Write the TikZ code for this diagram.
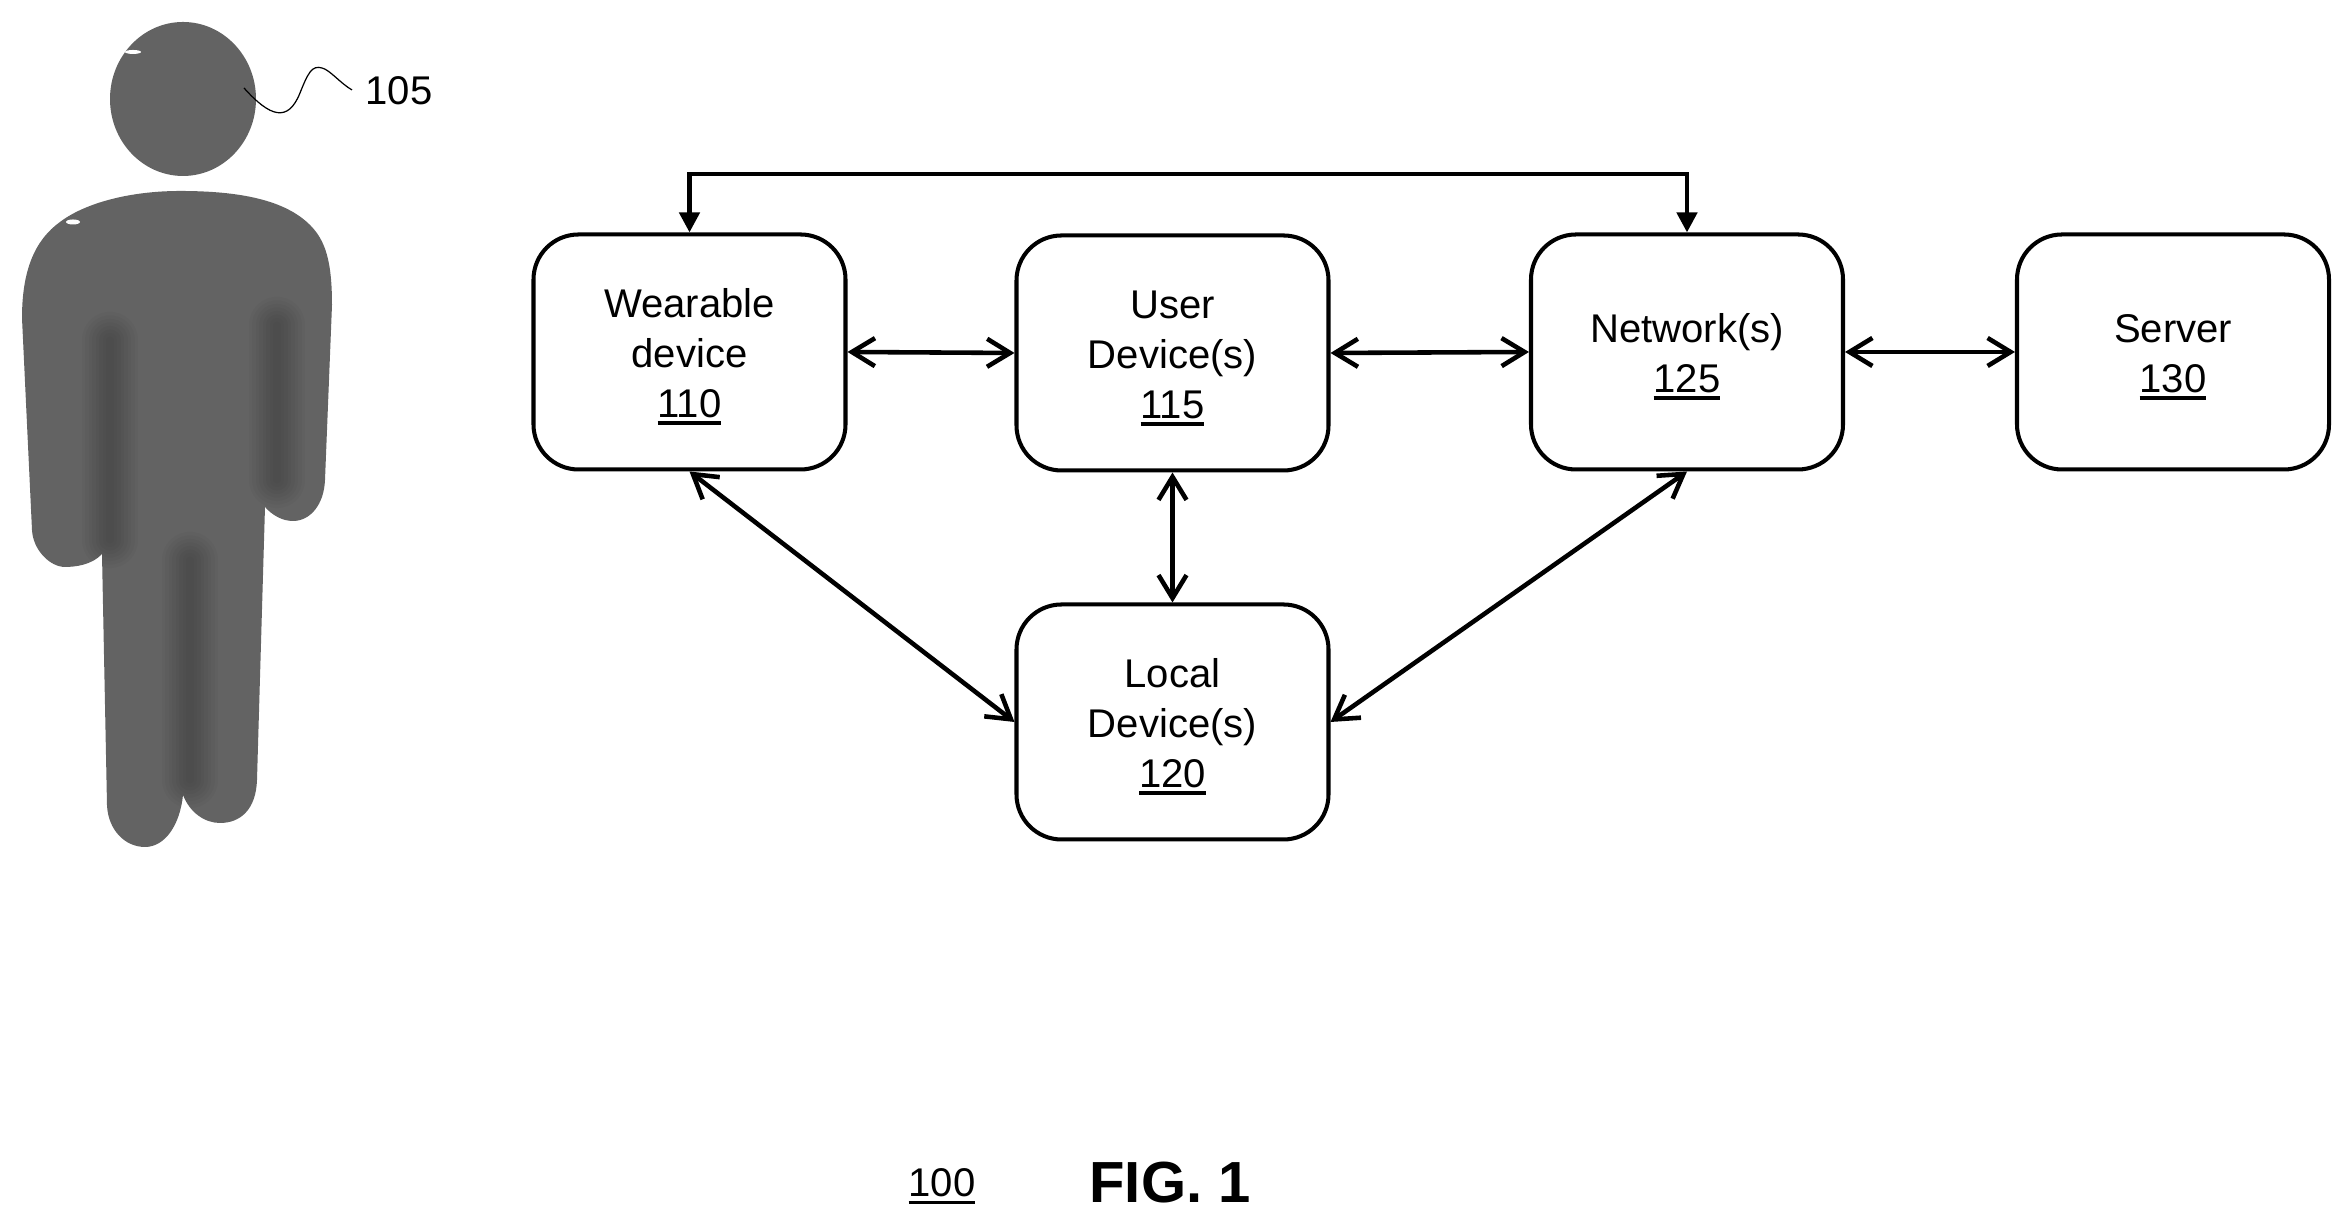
\documentclass[tikz,border=0pt]{standalone}
\usepackage{fontspec}
\setmainfont{Liberation Sans}
\usetikzlibrary{arrows.meta}

\definecolor{persongray}{gray}{0.39}
\definecolor{persondark}{gray}{0.12}

\newcommand{\refnum}[1]{\leavevmode\vtop{\hbox{#1}\kern0.04cm\hrule height 0.033cm}}
\newcommand{\topgap}{\rule{0pt}{0.38cm}}
\newcommand{\bodyshape}{(1.80, 10.34) .. controls (2.40, 10.34) and (2.85, 10.25) .. (3.10, 10.00) .. controls (3.25, 9.85) and (3.32, 9.65) .. (3.32, 9.20) -- (3.25, 7.45) .. controls (3.24, 7.20) and (3.10, 7.04) .. (2.93, 7.04) .. controls (2.82, 7.04) and (2.72, 7.10) .. (2.65, 7.18) -- (2.57, 4.45) .. controls (2.56, 4.15) and (2.40, 4.02) .. (2.20, 4.02) .. controls (2.05, 4.02) and (1.90, 4.12) .. (1.83, 4.30) .. controls (1.80, 4.00) and (1.65, 3.78) .. (1.45, 3.78) .. controls (1.25, 3.78) and (1.08, 3.95) .. (1.07, 4.20) -- (1.02, 6.71) .. controls (0.92, 6.60) and (0.75, 6.58) .. (0.65, 6.58) .. controls (0.50, 6.58) and (0.33, 6.75) .. (0.32, 6.95) -- (0.22, 9.07) .. controls (0.22, 9.55) and (0.35, 9.85) .. (0.60, 10.03) .. controls (0.85, 10.22) and (1.30, 10.34) .. (1.80, 10.34) -- cycle}

\tikzset{
    devicebox/.style={draw, line width=1.15pt, rounded corners=0.45cm, minimum width=3.12cm, minimum height=2.35cm, align=center, font=\fontsize{11.4}{14.2}\selectfont},
    linkboth/.style={line width=1.3pt, {Straight Barb[length=0.23cm, width=0.28cm]}-{Straight Barb[length=0.23cm, width=0.28cm]}},
    linktop/.style={line width=1.3pt, {Triangle[length=0.2cm, width=0.2cm]}-{Triangle[length=0.2cm, width=0.2cm]}},
    reflabel/.style={font=\fontsize{11.4}{14.2}\selectfont}
}

\begin{document}
\begin{tikzpicture}
    \useasboundingbox (0, 0) rectangle (23.49, 12.25);

    % Person
    \fill[persongray] (1.83, 11.26) ellipse (0.73 and 0.77);
    \fill[persongray] \bodyshape;

    % Shading between arms and legs
    \begin{scope}
        \clip \bodyshape;
        \foreach \sx/\sa/\sb in {1.10/8.85/6.85, 2.77/9.00/7.45, 1.90/6.65/4.45}
            \foreach \swidth in {2pt, 4pt, ..., 16pt}
                \draw[persondark, opacity=0.04, line width=\swidth, line cap=round] (\sx, \sa) -- (\sx, \sb);
    \end{scope}

    % Highlights
    \fill[white] (1.33, 11.73) ellipse (0.08 and 0.02);
    \fill[white] (0.73, 10.03) ellipse (0.07 and 0.025);

    % Leader
    \coordinate (leadstart) at (2.44, 11.37);
    \coordinate (leadend) at (3.52, 11.35);
    \node[reflabel] (person) at (3.99, 11.345) {105};
    \draw[line width=0.35pt] (leadstart) .. controls (2.70, 11.08) and (2.88, 11.02) .. (3.00, 11.32) .. controls (3.08, 11.52) and (3.12, 11.60) .. (3.22, 11.57) .. controls (3.30, 11.55) and (3.40, 11.42) .. (leadend);

    % Boxes
    \node[devicebox] (wearable) at (6.895, 8.73) {\topgap Wearable\\device\\\refnum{110}};
    \node[devicebox] (user) at (11.725, 8.72) {\topgap User\\Device(s)\\\refnum{115}};
    \node[devicebox] (network) at (16.87, 8.73) {\topgap Network(s)\\\refnum{125}};
    \node[devicebox] (server) at (21.73, 8.73) {\topgap Server\\\refnum{130}};
    \node[devicebox] (local) at (11.725, 5.03) {\topgap Local\\Device(s)\\\refnum{120}};

    % Links
    \draw[linktop] (wearable.north) -- ++(0, 0.585) -| (network.north);
    \draw[linkboth] (wearable.east) -- (user.west);
    \draw[linkboth] (user.east) -- (network.west);
    \draw[linkboth] (network.east) -- (server.west);
    \draw[linkboth] (wearable.south) -- (local.west);
    \draw[linkboth] (user.south) -- (local.north);
    \draw[linkboth] (network.south) -- (local.east);

    % Caption
    \node[reflabel] (hundred) at (9.42, 0.39) {\refnum{100}};
    \node[font=\fontsize{16.5}{20}\selectfont\bfseries] (figure) at (11.70, 0.42) {FIG. 1};
\end{tikzpicture}
\end{document}
